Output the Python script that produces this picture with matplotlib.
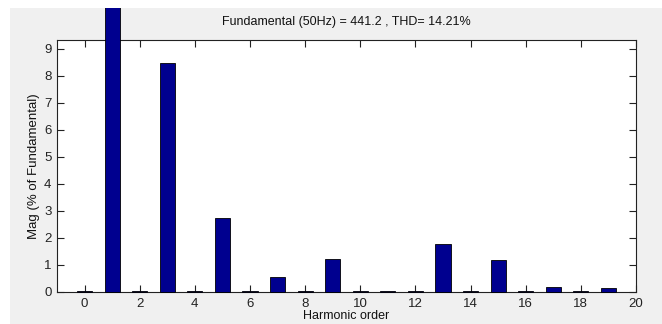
"""Harmonic spectrum bar chart (MATLAB FFT-analysis style)."""
import matplotlib
matplotlib.use("Agg")
import matplotlib.pyplot as plt
from matplotlib.patches import Rectangle

# harmonic order and magnitude (% of fundamental)
orders = list(range(0, 20))
mags = [0.05, 100.0, 0.03, 8.48, 0.03, 2.75, 0.03, 0.57, 0.03, 1.22,
        0.03, 0.03, 0.03, 1.78, 0.03, 1.18, 0.03, 0.20, 0.03, 0.14]
xticks = list(range(0, 21, 2))
yticks = list(range(0, 10))

title = "Fundamental (50Hz) = 441.2 , THD= 14.21%"
xlabel = "Harmonic order"
ylabel = "Mag (% of Fundamental)"

GRAY = "#f0f0f0"
BAR = "#00008f"

plt.rcParams["font.family"] = ["Liberation Sans", "DejaVu Sans"]

W, H = 662, 324
fig = plt.figure(figsize=(W / 100, H / 100), dpi=100, facecolor=GRAY)
ax = fig.add_axes([57 / W, 1 - 292 / H, (636 - 57) / W, (292 - 40) / H])

bars = ax.bar(orders, mags, width=0.55, color=BAR, edgecolor="black",
              linewidth=0.6, zorder=3)
for b in bars:
    b.set_clip_on(False)

ax.set_xlim(-1, 20)
ax.set_ylim(0, 9.33)
ax.set_xticks(xticks)
ax.set_yticks(yticks)
ax.tick_params(direction="in", length=5, width=0.8, labelsize=9.5,
               top=True, right=True, pad=4, colors="#222222")
for s in ax.spines.values():
    s.set_linewidth(0.8)
    s.set_color("#222222")

fig.text(346 / W, 1 - 22 / H, title, ha="center", va="center",
         fontsize=9, color="#111111")
fig.text(346 / W, 1 - 316 / H, xlabel, ha="center", va="center",
         fontsize=9, color="#111111")
ax.set_ylabel(ylabel, fontsize=9.5, labelpad=3, color="#111111")

# white screenshot border at top and left, drawn over the tall first bar
fig.patches.append(Rectangle((0, 1 - 8 / H), 1, 8 / H,
                             transform=fig.transFigure, facecolor="white",
                             edgecolor="none", zorder=10))
fig.patches.append(Rectangle((0, 0), 10 / W, 1,
                             transform=fig.transFigure, facecolor="white",
                             edgecolor="none", zorder=10))

fig.savefig("out.png", dpi=100, facecolor=GRAY)
